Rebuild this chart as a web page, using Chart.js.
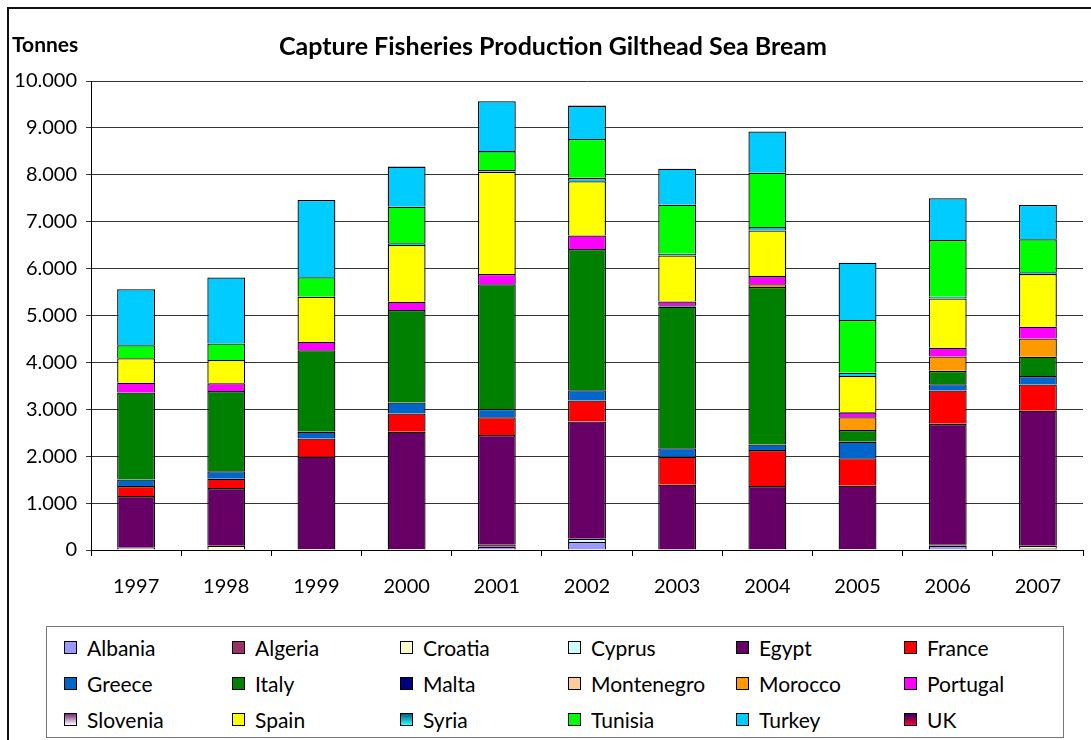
<!DOCTYPE html>
<html>
<head>
<meta charset="utf-8">
<title>Capture Fisheries Production Gilthead Sea Bream</title>
<script src="https://cdn.jsdelivr.net/npm/chart.js@4.4.1/dist/chart.umd.min.js"></script>
<style>
  body { margin: 0; background: #fff; font-family: Lato, "Open Sans", sans-serif; }
  #wrap { position: relative; width: 1091px; height: 740px; overflow: hidden; }
  #frame { position: absolute; left: 7px; top: 7px; width: 1200px; height: 800px; border: 2px solid #111; }
  #chartBox { position: absolute; left: 0; top: 0; width: 1091px; height: 620px; }
  #legend {
    position: absolute; left: 46px; top: 626px; width: 1018px; height: 112px;
    border: 1px solid #777; box-sizing: border-box;
    display: grid; grid-template-columns: repeat(6, 168px); grid-auto-rows: 36px;
    padding: 2px 0 0 17px;
  }
  .item { display: flex; align-items: center; font-size: 21px; color: #000; }
  .sw { width: 11px; height: 11px; border: 1px solid #000; margin-right: 10px; }
</style>
</head>
<body>
<div id="wrap">
  <div id="frame"></div>
  <div id="chartBox"><canvas id="seaBreamChart"></canvas></div>
  <div id="legend"></div>
</div>
<script>
const years = ['1997', '1998', '1999', '2000', '2001', '2002', '2003', '2004', '2005', '2006', '2007'];

// tonnes per country and year
const albania    = [0, 0, 0, 0, 70, 170, 0, 0, 0, 90, 0];
const algeria    = [0, 0, 0, 0, 40, 0, 0, 0, 0, 30, 30];
const croatia    = [50, 90, 20, 20, 0, 0, 0, 20, 20, 0, 60];
const cyprus     = [0, 0, 0, 0, 0, 70, 0, 0, 0, 0, 0];
const egypt      = [1100, 1230, 1970, 2500, 2340, 2500, 1390, 1345, 1350, 2570, 2880];
const france     = [215, 200, 390, 390, 380, 450, 600, 765, 585, 710, 560];
const greece     = [140, 160, 140, 235, 175, 215, 180, 120, 355, 135, 180];
const italy      = [1855, 1710, 1740, 1970, 2660, 3015, 3020, 3360, 250, 285, 410];
const malta      = [0, 0, 0, 0, 0, 0, 30, 0, 0, 0, 0];
const montenegro = [0, 0, 0, 0, 0, 0, 0, 0, 0, 0, 0];
const morocco    = [0, 0, 0, 0, 0, 0, 0, 55, 270, 305, 390];
const portugal   = [205, 165, 180, 180, 220, 285, 80, 175, 105, 190, 250];
const slovenia   = [0, 0, 0, 0, 0, 0, 0, 0, 0, 0, 0];
const spain      = [525, 495, 960, 1210, 2180, 1160, 980, 975, 775, 1050, 1125];
const syria      = [0, 0, 0, 35, 35, 70, 35, 70, 70, 35, 35];
const tunisia    = [275, 355, 415, 780, 405, 830, 1045, 1160, 1125, 1210, 705];
const turkey     = [1195, 1405, 1650, 855, 1065, 710, 770, 880, 1220, 890, 730];
const uk         = [0, 0, 0, 0, 0, 0, 0, 0, 0, 0, 0];

const yTicks = [0, 1000, 2000, 3000, 4000, 5000, 6000, 7000, 8000, 9000, 10000];

const series = [
  ['Albania', albania, '#9999FF'],
  ['Algeria', algeria, '#993366'],
  ['Croatia', croatia, '#FFFFCC'],
  ['Cyprus', cyprus, '#CCFFFF'],
  ['Egypt', egypt, '#660066'],
  ['France', france, '#FF0000'],
  ['Greece', greece, '#0066CC'],
  ['Italy', italy, '#008000'],
  ['Malta', malta, '#000080'],
  ['Montenegro', montenegro, '#FFCC99'],
  ['Morocco', morocco, '#FF9900'],
  ['Portugal', portugal, '#FF00FF'],
  ['Slovenia', slovenia, '#D9BFD9'],
  ['Spain', spain, '#FFFF00'],
  ['Syria', syria, '#00CCFF'],
  ['Tunisia', tunisia, '#00FF00'],
  ['Turkey', turkey, '#00CCFF'],
  ['UK', uk, '#CC0066']
];

// gradient swatches in the legend
const swatchGradient = {
  'Slovenia': 'linear-gradient(#7a2a7a, #ffffff)',
  'Syria': 'linear-gradient(#006080, #33ffff)',
  'UK': 'linear-gradient(#330066, #ff0033)'
};

function dotThousands(v) {
  return String(v).replace(/\B(?=(\d{3})+(?!\d))/g, '.');
}

const FONT = 'Lato, "Open Sans", sans-serif';

// title and unit label above the plot
const headerText = {
  id: 'headerText',
  afterDraw(chart) {
    const c = chart.ctx;
    c.save();
    c.fillStyle = '#000';
    c.textBaseline = 'middle';
    c.font = 'bold 25px ' + FONT;
    c.textAlign = 'center';
    c.fillText('Capture Fisheries Production Gilthead Sea Bream', 553, 47);
    c.font = 'bold 21px ' + FONT;
    c.textAlign = 'left';
    c.fillText('Tonnes', 12, 45);
    c.restore();
  }
};

const ctx = document.getElementById('seaBreamChart').getContext('2d');
const chart = new Chart(ctx, {
  type: 'bar',
  data: {
    labels: years,
    datasets: series.map(s => ({
      label: s[0],
      data: s[1],
      backgroundColor: s[2],
      borderColor: '#000',
      borderWidth: 1.3,
      barPercentage: 0.42,
      categoryPercentage: 1
    }))
  },
  options: {
    responsive: true,
    maintainAspectRatio: false,
    animation: false,
    layout: { padding: { top: 81, right: 8, left: 0, bottom: 0 } },
    plugins: {
      legend: { display: false },
      title: { display: false },
      tooltip: { enabled: false }
    },
    scales: {
      x: {
        stacked: true,
        offset: true,
        grid: { offset: true, drawOnChartArea: false, color: '#000', tickLength: 6 },
        border: { color: '#000' },
        ticks: { color: '#000', font: { family: FONT, size: 20 }, padding: 19, maxRotation: 0 },
        afterFit(scale) { scale.height = 70; }
      },
      y: {
        stacked: true,
        min: 0,
        max: 10000,
        afterBuildTicks(scale) { scale.ticks = yTicks.map(v => ({ value: v })); },
        grid: { color: '#333', tickLength: 5 },
        border: { color: '#000' },
        ticks: {
          color: '#000',
          font: { family: FONT, size: 20 },
          padding: 9,
          callback: v => dotThousands(v)
        },
        afterFit(scale) { scale.width = 91; }
      }
    }
  },
  plugins: [headerText]
});

// six-column legend box under the chart
const legendBox = document.getElementById('legend');
chart.data.datasets.forEach(ds => {
  const item = document.createElement('div');
  item.className = 'item';
  const sw = document.createElement('span');
  sw.className = 'sw';
  sw.style.background = swatchGradient[ds.label] || ds.backgroundColor;
  item.appendChild(sw);
  item.appendChild(document.createTextNode(ds.label));
  legendBox.appendChild(item);
});
</script>
</body>
</html>
